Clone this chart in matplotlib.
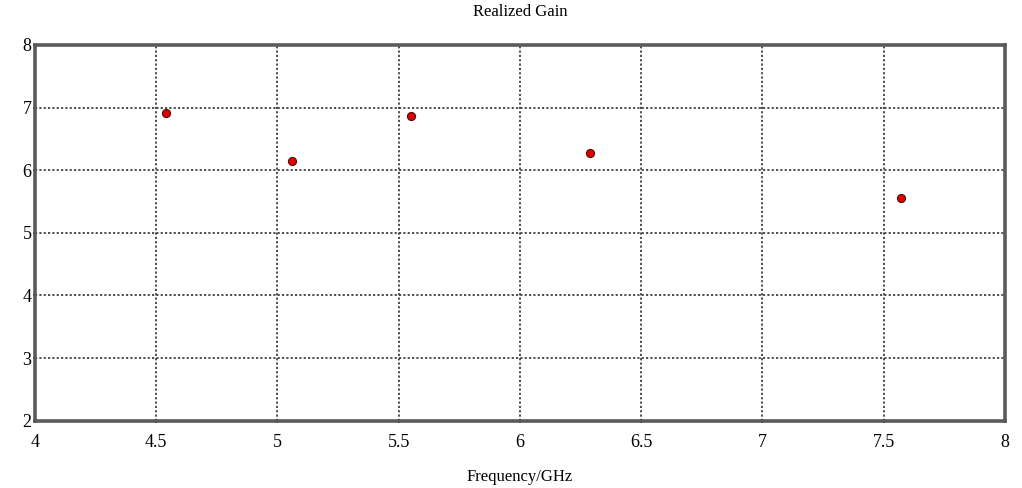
import numpy as np
import matplotlib.pyplot as plt

plt.rcParams['font.family'] = ['Liberation Serif', 'DejaVu Serif']

# Realized gain data
freq = [4.54, 5.06, 5.55, 6.29, 7.57]  # [GHz]
gain = [6.91, 6.15, 6.87, 6.28, 5.55]  # [dBi]

x_ticks = [4, 4.5, 5, 5.5, 6, 6.5, 7, 7.5, 8]
x_labels = ['4', '4.5', '5', '5.5', '6', '6.5', '7', '7.5', '8']
y_ticks = [2, 3, 4, 5, 6, 7, 8]

fig = plt.figure(figsize=(10.22, 4.88), dpi=100)
ax = fig.add_axes([0.0342, 0.138, 0.949, 0.770])

ax.scatter(freq, gain, s=34, color='#e00000', edgecolors='#501010',
           linewidths=0.8, zorder=3)

ax.set_xlim(4, 8)
ax.set_ylim(2, 8)
ax.set_xticks(x_ticks)
ax.set_xticklabels(x_labels)
ax.set_yticks(y_ticks)
ax.grid(True, linestyle=(0, (1.2, 1.2)), color='#404040', linewidth=1.3)

for s in ax.spines.values():
    s.set_color('#5a5a5a')
    s.set_linewidth(2.6)

ax.tick_params(axis='both', labelsize=13, length=3, width=1.5,
               direction='inout', color='#202020')
ax.tick_params(axis='x', pad=8)
ax.tick_params(axis='y', pad=1)

ax.set_title('Realized Gain', fontsize=12, pad=21)
ax.set_xlabel('Frequency/GHz', fontsize=12, labelpad=13)

fig.savefig('out.png', dpi=100)
